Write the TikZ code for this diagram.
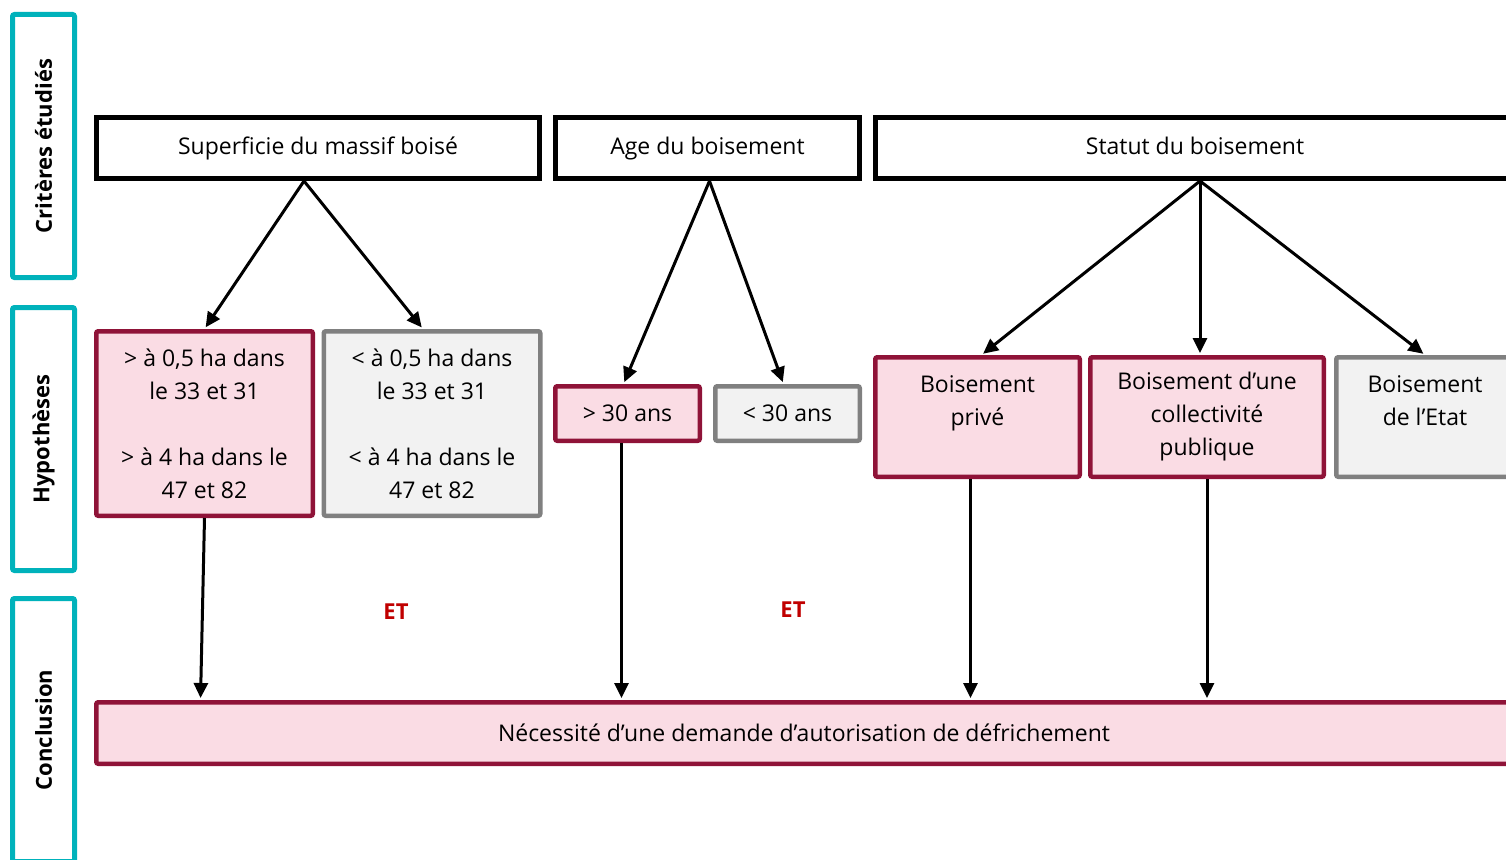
\documentclass[tikz,border=0pt]{standalone}
\usepackage{fontspec}
\setmainfont{Open Sans}
\usetikzlibrary{arrows.meta}
\definecolor{lblcol}{RGB}{0,178,187}
\definecolor{pinkfill}{RGB}{250,220,228}
\definecolor{pinkline}{RGB}{143,19,56}
\definecolor{greyfill}{RGB}{242,242,242}
\definecolor{greyline}{RGB}{128,128,128}
\definecolor{etred}{RGB}{192,0,0}

\begin{document}
\begin{tikzpicture}[x=1pt,y=-1pt,font=\fontsize{23}{33}\selectfont]
	\tikzstyle{crit} = [draw=black,line width=5pt,fill=white,minimum height=61pt,inner sep=0pt,execute at begin node=\strut];
	\tikzstyle{hyes} = [draw=pinkline,fill=pinkfill,line width=4.5pt,rounded corners=2pt,align=center,inner sep=0pt];
	\tikzstyle{hno} = [draw=greyline,fill=greyfill,line width=4.5pt,rounded corners=2pt,align=center,inner sep=0pt];
	\tikzstyle{side} = [draw=lblcol,line width=5pt,rounded corners=2pt,rotate=90,minimum width=263pt,minimum height=62pt,font=\fontsize{22}{32}\selectfont\bfseries];
	\tikzstyle{arr} = [-{Triangle[length=15pt,width=14pt]},line width=3pt,shorten >=2pt];
	\useasboundingbox (0,0) rectangle (1506,859);
	\clip (0,0) rectangle (1506,859);
	% row labels
	\node [side] (lcrit) at (43.5,146) {Critères étudiés};
	\node [side] (lhyp) at (43.5,439) {Hypothèses};
	\node [side] (lconc) at (43.5,730) {Conclusion};
	% criteria
	\node [crit,minimum width=443pt] (sup) at (318,148) {Superficie du massif boisé};
	\node [crit,minimum width=304pt] (age) at (707.5,148) {Age du boisement};
	\node [crit,minimum width=639pt] (stat) at (1195,148) {Statut du boisement};
	% hypotheses
	\node [hyes,minimum width=216.5pt,minimum height=184.5pt] (h1) at (204.5,423.5) {> à 0,5 ha dans\\le 33 et 31\\\mbox{}\\> à 4 ha dans le\\47 et 82};
	\node [hno,minimum width=216.5pt,minimum height=184.5pt] (h2) at (432,423.5) {< à 0,5 ha dans\\le 33 et 31\\\mbox{}\\< à 4 ha dans le\\47 et 82};
	\node [hyes,minimum width=144.5pt,minimum height=54.5pt] (h3) at (627.5,413.5) {> 30 ans};
	\node [hno,minimum width=144.5pt,minimum height=54.5pt] (h4) at (787.5,413.5) {< 30 ans};
	\node [hyes,minimum width=204.5pt,minimum height=119.5pt] (h5) at (977.5,417) {Boisement\\privé\\\mbox{}};
	\node [hyes,minimum width=233.5pt,minimum height=119.5pt] (h6) at (1207,417) {Boisement d’une\\collectivité\\publique};
	\node [hno,minimum width=177.5pt,minimum height=119.5pt] (h7) at (1425,417) {Boisement\\de l’Etat\\\mbox{}};
	% conclusion
	\node [hyes,minimum width=1415.5pt,minimum height=61.5pt] (concl) at (804,733) {Nécessité d’une demande d’autorisation de défrichement};
	\node [font=\fontsize{22}{32}\selectfont\bfseries,text=etred] (et1) at (396,612) {ET};
	\node [font=\fontsize{22}{32}\selectfont\bfseries,text=etred] (et2) at (793,610) {ET};
	% connectors
	\draw [arr] ([xshift=-14pt]sup.south) -- (h1.north);
	\draw [arr] ([xshift=-14pt]sup.south) -- ([xshift=-9pt]h2.north);
	\draw [arr] ([xshift=2pt]age.south) -- ([xshift=-4pt]h3.north);
	\draw [arr] ([xshift=2pt]age.south) -- ([xshift=-4pt]h4.north);
	\draw [arr] ([xshift=5pt]stat.south) -- ([xshift=4pt]h5.north);
	\draw [arr] ([xshift=5pt]stat.south) -- ([xshift=-7pt]h6.north);
	\draw [arr] ([xshift=5pt]stat.south) -- (h7.north);
	\draw [arr] (h1.south) -- ([xshift=-4pt]h1.south |- concl.north);
	\draw [arr] ([xshift=-6pt]h3.south) -- ([xshift=-6pt]h3.south |- concl.north);
	\draw [arr] ([xshift=-7pt]h5.south) -- ([xshift=-7pt]h5.south |- concl.north);
	\draw [arr] (h6.south) -- (h6.south |- concl.north);
\end{tikzpicture}
\end{document}
